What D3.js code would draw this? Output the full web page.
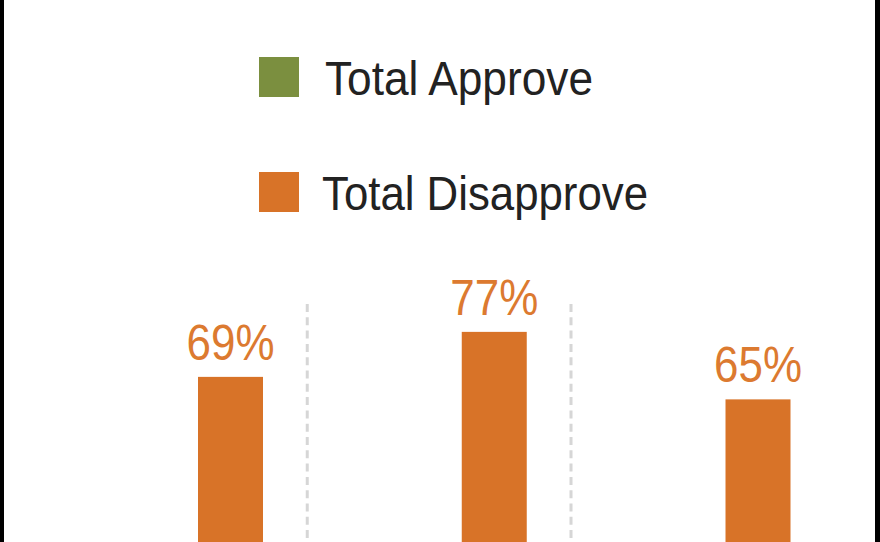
<!DOCTYPE html>
<html>
<head>
<meta charset="utf-8">
<script src="https://cdn.jsdelivr.net/npm/d3@7"></script>
<style>
  html, body { margin: 0; padding: 0; background: #fff; }
  svg { display: block; }
</style>
</head>
<body>
<svg id="chart" width="880" height="542"></svg>
<script>
// Data (only the upper part of the chart is visible in the reference)
const categories = ["Group 1", "Group 2", "Group 3"];
const seriesNames = ["Total Approve", "Total Disapprove"];
const seriesColors = ["#7b8f3f", "#d87328"];
const disapproveValues = [69, 77, 65];
const valueLabels = ["69%", "77%", "65%"];

const W = 880, H = 542;
const svg = d3.select("#chart");
const font = "'Liberation Sans Narrow', 'Arial Narrow', 'Liberation Sans', Arial, sans-serif";

svg.append("rect").attr("width", W).attr("height", H).attr("fill", "#fff");

// Scales
const x = d3.scaleBand().domain(categories).range([39, 830.25]).padding(0);
const xInner = d3.scaleBand().domain(seriesNames).range([43, 224]).paddingInner(0.4397).paddingOuter(0);
const y = d3.scaleLinear().domain([0, 100]).range([765, 202.5]);

// Dashed separators between groups
svg.selectAll("line.sep")
  .data(categories.slice(1))
  .join("line")
  .attr("class", "sep")
  .attr("x1", d => x(d) + 4.5).attr("x2", d => x(d) + 4.5)
  .attr("y1", 304).attr("y2", H)
  .attr("stroke", "#d6d6d6")
  .attr("stroke-width", 3)
  .attr("stroke-dasharray", "8,5.3");

// Disapprove bars
const bw = xInner.bandwidth();
svg.selectAll("rect.bar")
  .data(disapproveValues)
  .join("rect")
  .attr("class", "bar")
  .attr("x", (d, i) => x(categories[i]) + xInner("Total Disapprove"))
  .attr("y", d => y(d))
  .attr("width", bw)
  .attr("height", d => y(0) - y(d))
  .attr("fill", seriesColors[1]);

// Value labels
svg.selectAll("text.val")
  .data(disapproveValues)
  .join("text")
  .attr("class", "val")
  .attr("x", (d, i) => x(categories[i]) + xInner("Total Disapprove") + bw / 2)
  .attr("y", d => y(d) - 17)
  .attr("text-anchor", "middle")
  .attr("font-family", font)
  .attr("font-size", 50)
  .attr("fill", "#dc7a30")
  .attr("textLength", 88)
  .attr("lengthAdjust", "spacingAndGlyphs")
  .text((d, i) => valueLabels[i]);

// Legend
const legendY = [57, 172];
const legendTextX = [325, 322];
const legendTextLen = [268, 326];
const lg = svg.selectAll("g.leg")
  .data(seriesNames)
  .join("g")
  .attr("class", "leg");
lg.append("rect")
  .attr("x", 259).attr("y", (d, i) => legendY[i])
  .attr("width", 40).attr("height", 40)
  .attr("fill", (d, i) => seriesColors[i]);
lg.append("text")
  .attr("x", (d, i) => legendTextX[i])
  .attr("y", (d, i) => legendY[i] + 38)
  .attr("font-family", font)
  .attr("font-size", 48)
  .attr("fill", "#222")
  .attr("textLength", (d, i) => legendTextLen[i])
  .attr("lengthAdjust", "spacingAndGlyphs")
  .text(d => d);

// Black frame edges
svg.append("rect").attr("x", 0).attr("y", 0).attr("width", 4).attr("height", H).attr("fill", "#000");
svg.append("rect").attr("x", 875).attr("y", 0).attr("width", 5).attr("height", H).attr("fill", "#000");
</script>
</body>
</html>
